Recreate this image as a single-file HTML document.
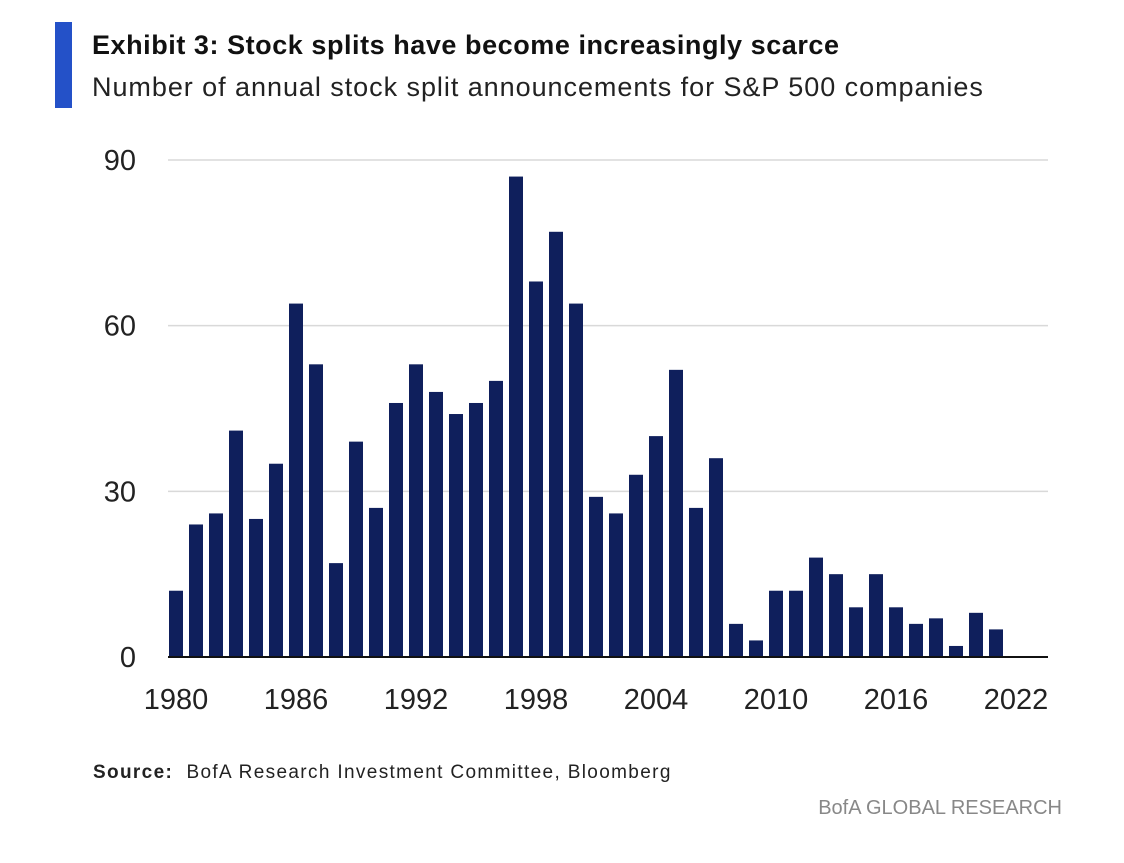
<!DOCTYPE html>
<html><head><meta charset="utf-8"><style>
html,body{margin:0;padding:0;background:#fff;}
body{width:1124px;height:863px;position:relative;overflow:hidden;font-family:"Liberation Sans",sans-serif;}
#accent{position:absolute;left:55px;top:22px;width:17px;height:86px;background:#2451c8;}
#title{position:absolute;left:92px;top:30px;font-size:27px;font-weight:bold;color:#111;letter-spacing:0.55px;}
#subtitle{position:absolute;left:92px;top:72px;font-size:27px;color:#222;letter-spacing:0.95px;}
#source{position:absolute;left:93px;top:762px;font-size:19px;color:#222;letter-spacing:1.35px;}
#brand{position:absolute;right:62px;top:797px;font-size:20px;color:#888;}
svg{position:absolute;left:0;top:0;}
</style></head><body>
<div id="accent"></div>
<div id="title">Exhibit 3: Stock splits have become increasingly scarce</div>
<div id="subtitle">Number of annual stock split announcements for S&amp;P 500 companies</div>
<svg id="chart" width="1124" height="863"></svg>
<div id="source"><b>Source:</b>&nbsp; BofA Research Investment Committee, Bloomberg</div>
<div id="brand">BofA GLOBAL RESEARCH</div>
<script>
const years = [1980,1981,1982,1983,1984,1985,1986,1987,1988,1989,1990,1991,1992,1993,1994,1995,1996,1997,1998,1999,2000,2001,2002,2003,2004,2005,2006,2007,2008,2009,2010,2011,2012,2013,2014,2015,2016,2017,2018,2019,2020,2021,2022];
const splits = [12,24,26,41,25,35,64,53,17,39,27,46,53,48,44,46,50,87,68,77,64,29,26,33,40,52,27,36,6,3,12,12,18,15,9,15,9,6,7,2,8,5,0];
const yTicks = [0,30,60,90];
const xTicks = [1980,1986,1992,1998,2004,2010,2016,2022];

const svg = document.getElementById('chart');
const NS = 'http://www.w3.org/2000/svg';
const y0 = 657, y90 = 160, xL = 168, xR = 1048;
const yScale = v => y0 - (v/90)*(y0-y90);
const xScale = yr => 176 + (yr-1980)*20;
function mk(tag, attrs){const e=document.createElementNS(NS,tag);for(const k in attrs)e.setAttribute(k,attrs[k]);svg.appendChild(e);return e;}

yTicks.forEach(t=>{
  if(t>0){
    const g = mk('line',{x1:xL,x2:xR,y1:yScale(t),y2:yScale(t),stroke:'#d9d9d9','stroke-width':1.5});
    
    
  }
  const l = mk('text',{x:136,y:yScale(t)+10,'text-anchor':'end','font-size':29,fill:'#222','font-family':'Liberation Sans, sans-serif'});
  l.textContent=t;
  
  
});

years.forEach((yr,i)=>{
  const v = splits[i];
  if(v<=0) return;
  const b = mk('rect',{x:xScale(yr)-7,y:yScale(v),width:14,height:y0-yScale(v),fill:'#0f1f5c'});
  
  
});

const ax = mk('line',{x1:xL,x2:xR,y1:y0,y2:y0,stroke:'#111','stroke-width':2});



xTicks.forEach(t=>{
  const l = mk('text',{x:xScale(t),y:709,'text-anchor':'middle','font-size':29,fill:'#222','font-family':'Liberation Sans, sans-serif'});
  l.textContent=t;
  
  
});
</script>
</body></html>
